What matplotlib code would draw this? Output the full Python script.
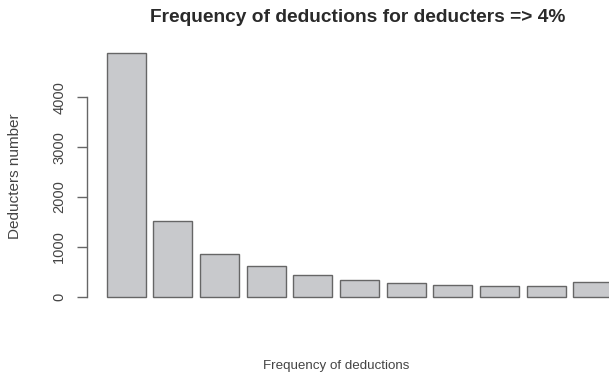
import matplotlib
matplotlib.use("Agg")
import matplotlib.pyplot as plt
import numpy as np

plt.rcParams["font.family"] = ["Liberation Sans", "DejaVu Sans"]

# Number of deducters for each deduction frequency (1, 2, ..., 11+)
frequencies = ["1", "2", "3", "4", "5", "6", "7", "8", "9", "10", "11+"]
deducters = [4880, 1510, 850, 620, 435, 325, 275, 240, 220, 205, 295]
y_ticks = [0, 1000, 2000, 3000, 4000]

W, H = 609, 377
fig = plt.figure(figsize=(W / 100, H / 100), dpi=100)

# Plot region (R barplot style), its right part runs past the figure edge
left_px, right_px, top_px, bottom_px = 86.5, 632.6, 43.7, 306.4
ax = fig.add_axes([left_px / W, 1 - bottom_px / H,
                   (right_px - left_px) / W, (bottom_px - top_px) / H])

n = len(deducters)
space, width = 0.2, 1.0
centers = space + width / 2 + np.arange(n) * (width + space)
ax.bar(centers, deducters, width=width, color="#c8c9cc",
       edgecolor="#666666", linewidth=1.0)

x_lo, x_hi = space, n * (width + space)
pad = 0.04 * (x_hi - x_lo)
ax.set_xlim(x_lo - pad, x_hi + pad)
ymax = max(deducters)
ax.set_ylim(-0.04 * ymax, ymax * 1.04)

for s in ["top", "right", "bottom"]:
    ax.spines[s].set_visible(False)
ax.spines["left"].set_bounds(y_ticks[0], y_ticks[-1])
ax.spines["left"].set_color("#666666")
ax.spines["left"].set_linewidth(1.0)
ax.set_xticks([])
ax.set_yticks(y_ticks)
ax.set_yticklabels([str(t) for t in y_ticks], rotation=90, va="center")
ax.tick_params(axis="y", length=7.5, width=1.0, color="#666666",
               labelsize=10.5, labelcolor="#444444", pad=7)

fig.text(358 / W, 1 - 17 / H, "Frequency of deductions for deducters => 4%",
         ha="center", va="center", fontsize=13.8, fontweight="bold",
         color="#2a2a2a")
fig.text(336 / W, 1 - 365.5 / H, "Frequency of deductions",
         ha="center", va="center", fontsize=9.6, color="#444444")
fig.text(15 / W, 1 - 176.5 / H, "Deducters number", rotation=90,
         ha="center", va="center", fontsize=11, color="#444444")

fig.savefig("out.png", dpi=100)
